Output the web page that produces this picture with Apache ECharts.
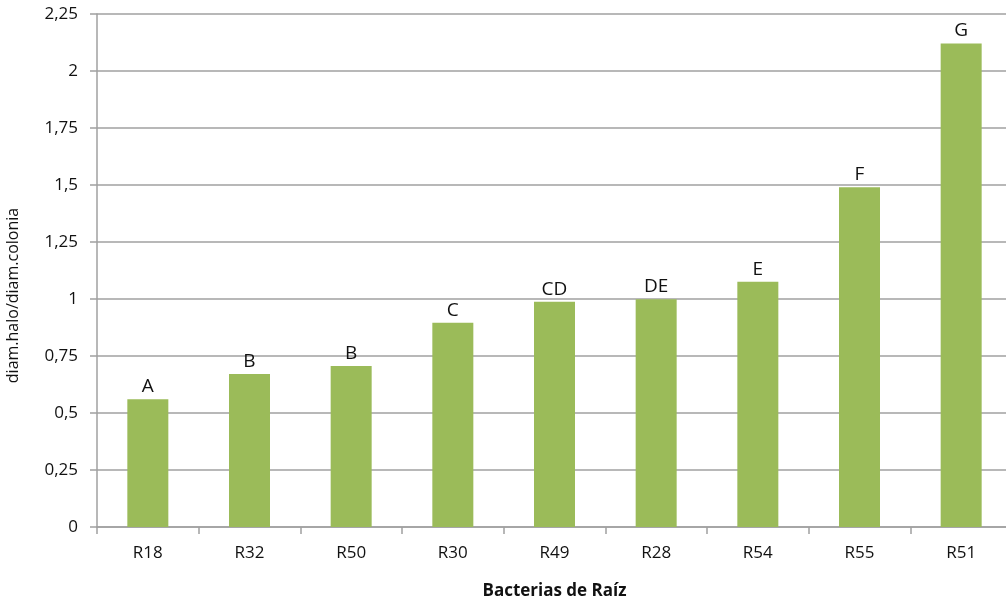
<!DOCTYPE html>
<html>
<head>
<meta charset="utf-8">
<script src="https://cdn.jsdelivr.net/npm/echarts@6/dist/echarts.min.js"></script>
<style>
    html, body { margin: 0; padding: 0; background: #fff; overflow: hidden; }
    #chart { width: 1006px; height: 605px; }
</style>
</head>
<body>
<div id="chart"></div>
<script>
    // datos
    const categorias = ['R18', 'R32', 'R50', 'R30', 'R49', 'R28', 'R54', 'R55', 'R51'];
    const valores = [0.56, 0.671, 0.706, 0.896, 0.988, 0.999, 1.076, 1.49, 2.121];
    const letras = ['A', 'B', 'B', 'C', 'CD', 'DE', 'E', 'F', 'G'];

    const fuente = '"Open Sans", Lato, sans-serif';
    const gris = '#a0a0a0';

    const chart = echarts.init(document.getElementById('chart'));
    chart.setOption({
        animation: false,
        grid: {
            left: 97,
            width: 915,   // el área de trazado se sale un poco por la derecha
            top: 14,
            bottom: 78,
            outerBoundsMode: 'none'
        },
        xAxis: {
            type: 'category',
            data: categorias,
            name: 'Bacterias de Raíz',
            nameLocation: 'middle',
            nameGap: 56,
            nameTextStyle: { fontFamily: fuente, fontSize: 17, fontWeight: 'bold', color: '#111' },
            axisLine: { lineStyle: { color: gris, width: 1.5 } },
            axisTick: { show: true, length: 7, interval: 0, lineStyle: { color: gris, width: 1.5 } },
            axisLabel: { fontFamily: fuente, fontSize: 17, color: '#111', margin: 18 }
        },
        yAxis: {
            type: 'value',
            min: 0,
            max: 2.25,
            interval: 0.25,
            name: 'diam.halo/diam.colonia',
            nameLocation: 'middle',
            nameGap: 76,
            // el título queda algo por debajo del centro del eje
            nameTextStyle: { fontFamily: fuente, fontSize: 16, color: '#111', padding: [0, 50, 0, 0] },
            axisLine: { show: true, lineStyle: { color: gris, width: 1.5 } },
            axisTick: { show: true, length: 7, lineStyle: { color: gris, width: 1.5 } },
            splitLine: { lineStyle: { color: gris, width: 1.5 } },
            axisLabel: {
                fontFamily: fuente,
                fontSize: 17,
                color: '#111',
                margin: 19,
                formatter: v => String(v).replace('.', ',')
            }
        },
        series: [{
            type: 'bar',
            data: valores,
            barWidth: 41,
            itemStyle: { color: '#9bbb59' },
            label: {
                show: true,
                position: 'top',
                distance: 3,
                fontFamily: fuente,
                fontSize: 19,
                color: '#111',
                formatter: p => letras[p.dataIndex]
            }
        }]
    });
</script>
</body>
</html>
